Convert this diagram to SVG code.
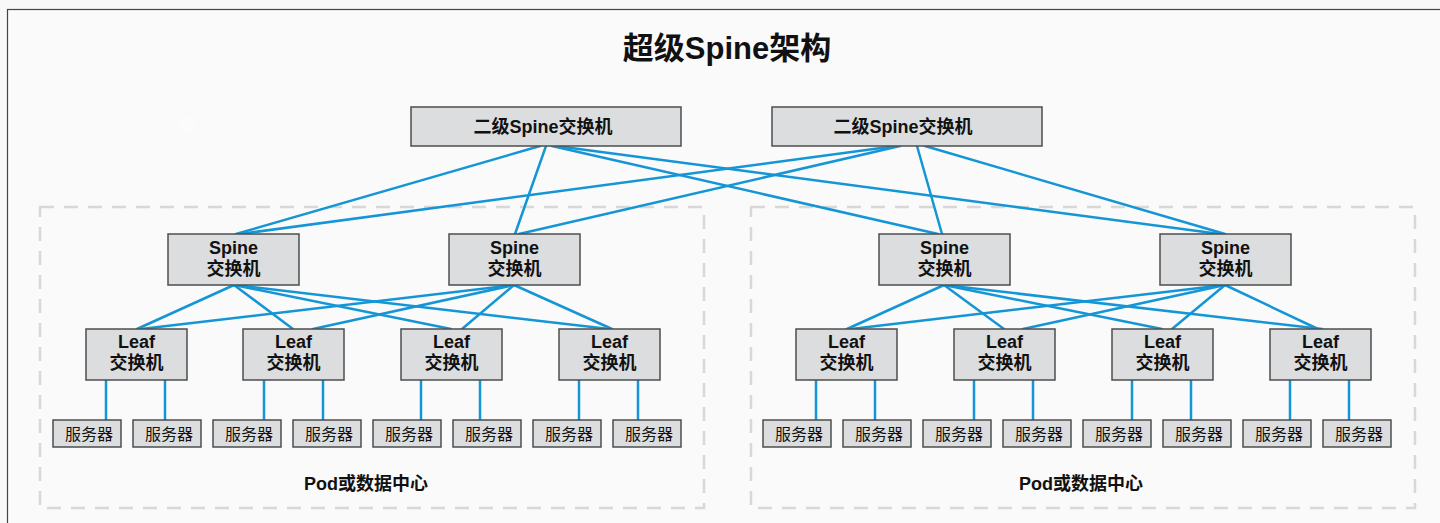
<svg xmlns="http://www.w3.org/2000/svg" width="1440" height="523" viewBox="0 0 1440 523">
  <style>
    .box { fill: #dcdddf; stroke: #4d4d4d; stroke-width: 1.5; }
    .t { font-family: "Liberation Sans", "Noto Sans CJK SC", sans-serif; fill: #111; text-anchor: middle; }
    .b { font-weight: bold; }
    .sw { font-size: 18px; font-weight: bold; }
    .srv { font-size: 16px; }
    .link { stroke: #1496d6; stroke-width: 2.5; fill: none; stroke-linecap: round; }
    .pod { fill: none; stroke: #d8d8d8; stroke-width: 2.5; stroke-dasharray: 14 10; }
  </style>

  <!-- page background and frame -->
  <rect x="0" y="0" width="1440" height="523" fill="#f8f8f8"/>
  <rect x="7.5" y="9.5" width="1450" height="530" fill="#fafafa" stroke="#444" stroke-width="1.2"/>
  <g opacity="0.35" stroke="#ffffff" stroke-width="3" fill="none">
    <line x1="188" y1="125" x2="240" y2="178"/>
    <circle cx="187" cy="125" r="7" fill="#ffffff"/>
  </g>

  <text class="t b" x="727" y="59" font-size="31">超级Spine架构</text>

  <!-- pod outlines -->
  <g id="pods">
    <rect class="pod" x="40" y="207" width="664" height="301"/>
    <rect class="pod" x="751" y="207" width="664" height="301"/>
    <text class="t b" x="366" y="490" font-size="18">Pod或数据中心</text>
    <text class="t b" x="1081" y="490" font-size="18">Pod或数据中心</text>
  </g>

  <!-- connectors -->
  <g id="connectors" class="link">
    <!-- super spine to spine -->
    <line x1="540" y1="146" x2="236" y2="234"/>
    <line x1="546" y1="146" x2="515" y2="234"/>
    <line x1="552" y1="146" x2="938" y2="234"/>
    <line x1="556" y1="146" x2="1220" y2="234"/>
    <line x1="896" y1="146" x2="240" y2="234"/>
    <line x1="900" y1="146" x2="519" y2="234"/>
    <line x1="917" y1="146" x2="942" y2="234"/>
    <line x1="925" y1="146" x2="1225" y2="234"/>
    <!-- left pod spine to leaf -->
    <line x1="234" y1="285" x2="137" y2="329"/>
    <line x1="234" y1="285" x2="293" y2="329"/>
    <line x1="234" y1="285" x2="451" y2="329"/>
    <line x1="234" y1="285" x2="609" y2="329"/>
    <line x1="514" y1="285" x2="141" y2="329"/>
    <line x1="514" y1="285" x2="313" y2="329"/>
    <line x1="514" y1="285" x2="462" y2="329"/>
    <line x1="514" y1="285" x2="612" y2="329"/>
    <!-- right pod spine to leaf -->
    <line x1="944" y1="285" x2="847" y2="329"/>
    <line x1="944" y1="285" x2="1004" y2="329"/>
    <line x1="944" y1="285" x2="1162" y2="329"/>
    <line x1="944" y1="285" x2="1322" y2="329"/>
    <line x1="1225" y1="285" x2="851" y2="329"/>
    <line x1="1225" y1="285" x2="1023" y2="329"/>
    <line x1="1225" y1="285" x2="1172" y2="329"/>
    <line x1="1225" y1="285" x2="1318" y2="329"/>
    <!-- leaf to server -->
    <line x1="106" y1="380" x2="106" y2="420"/><line x1="165" y1="380" x2="165" y2="420"/>
    <line x1="264" y1="380" x2="264" y2="420"/><line x1="323" y1="380" x2="323" y2="420"/>
    <line x1="421" y1="380" x2="421" y2="420"/><line x1="480" y1="380" x2="480" y2="420"/>
    <line x1="579" y1="380" x2="579" y2="420"/><line x1="638" y1="380" x2="638" y2="420"/>
    <line x1="816" y1="380" x2="816" y2="420"/><line x1="875" y1="380" x2="875" y2="420"/>
    <line x1="974" y1="380" x2="974" y2="420"/><line x1="1033" y1="380" x2="1033" y2="420"/>
    <line x1="1132" y1="380" x2="1132" y2="420"/><line x1="1191" y1="380" x2="1191" y2="420"/>
    <line x1="1290" y1="380" x2="1290" y2="420"/><line x1="1349" y1="380" x2="1349" y2="420"/>
  </g>

  <!-- super spine switches -->
  <g id="superspine-1"><rect class="box" x="411" y="107" width="270" height="39"/><text class="t sw" x="543" y="133">二级Spine交换机</text></g>
  <g id="superspine-2"><rect class="box" x="772" y="107" width="270" height="39"/><text class="t sw" x="903" y="133">二级Spine交换机</text></g>

  <!-- spine switches -->
  <g id="spine-1"><rect class="box" x="168" y="234" width="131" height="51"/><text class="t sw" x="233.5" y="254">Spine</text><text class="t sw" x="233.5" y="275">交换机</text></g>
  <g id="spine-2"><rect class="box" x="449" y="234" width="131" height="51"/><text class="t sw" x="514.5" y="254">Spine</text><text class="t sw" x="514.5" y="275">交换机</text></g>
  <g id="spine-3"><rect class="box" x="879" y="234" width="131" height="51"/><text class="t sw" x="944.5" y="254">Spine</text><text class="t sw" x="944.5" y="275">交换机</text></g>
  <g id="spine-4"><rect class="box" x="1160" y="234" width="131" height="51"/><text class="t sw" x="1225.5" y="254">Spine</text><text class="t sw" x="1225.5" y="275">交换机</text></g>

  <!-- leaf switches -->
  <g id="leaf-1"><rect class="box" x="86" y="329" width="101" height="51"/><text class="t sw" x="136.5" y="348">Leaf</text><text class="t sw" x="136.5" y="369">交换机</text></g>
  <g id="leaf-2"><rect class="box" x="243" y="329" width="101" height="51"/><text class="t sw" x="293.5" y="348">Leaf</text><text class="t sw" x="293.5" y="369">交换机</text></g>
  <g id="leaf-3"><rect class="box" x="401" y="329" width="101" height="51"/><text class="t sw" x="451.5" y="348">Leaf</text><text class="t sw" x="451.5" y="369">交换机</text></g>
  <g id="leaf-4"><rect class="box" x="559" y="329" width="101" height="51"/><text class="t sw" x="609.5" y="348">Leaf</text><text class="t sw" x="609.5" y="369">交换机</text></g>
  <g id="leaf-5"><rect class="box" x="796" y="329" width="101" height="51"/><text class="t sw" x="846.5" y="348">Leaf</text><text class="t sw" x="846.5" y="369">交换机</text></g>
  <g id="leaf-6"><rect class="box" x="954" y="329" width="101" height="51"/><text class="t sw" x="1004.5" y="348">Leaf</text><text class="t sw" x="1004.5" y="369">交换机</text></g>
  <g id="leaf-7"><rect class="box" x="1112" y="329" width="101" height="51"/><text class="t sw" x="1162.5" y="348">Leaf</text><text class="t sw" x="1162.5" y="369">交换机</text></g>
  <g id="leaf-8"><rect class="box" x="1270" y="329" width="101" height="51"/><text class="t sw" x="1320.5" y="348">Leaf</text><text class="t sw" x="1320.5" y="369">交换机</text></g>

  <!-- servers -->
  <g id="server-1"><rect class="box" x="53" y="420" width="68" height="27"/><text class="t srv" x="89" y="440">服务器</text></g>
  <g id="server-2"><rect class="box" x="133" y="420" width="68" height="27"/><text class="t srv" x="169" y="440">服务器</text></g>
  <g id="server-3"><rect class="box" x="213" y="420" width="68" height="27"/><text class="t srv" x="249" y="440">服务器</text></g>
  <g id="server-4"><rect class="box" x="293" y="420" width="68" height="27"/><text class="t srv" x="329" y="440">服务器</text></g>
  <g id="server-5"><rect class="box" x="373" y="420" width="68" height="27"/><text class="t srv" x="409" y="440">服务器</text></g>
  <g id="server-6"><rect class="box" x="453" y="420" width="68" height="27"/><text class="t srv" x="489" y="440">服务器</text></g>
  <g id="server-7"><rect class="box" x="533" y="420" width="68" height="27"/><text class="t srv" x="569" y="440">服务器</text></g>
  <g id="server-8"><rect class="box" x="613" y="420" width="68" height="27"/><text class="t srv" x="649" y="440">服务器</text></g>
  <g id="server-9"><rect class="box" x="763" y="420" width="68" height="27"/><text class="t srv" x="799" y="440">服务器</text></g>
  <g id="server-10"><rect class="box" x="843" y="420" width="68" height="27"/><text class="t srv" x="879" y="440">服务器</text></g>
  <g id="server-11"><rect class="box" x="923" y="420" width="68" height="27"/><text class="t srv" x="959" y="440">服务器</text></g>
  <g id="server-12"><rect class="box" x="1003" y="420" width="68" height="27"/><text class="t srv" x="1039" y="440">服务器</text></g>
  <g id="server-13"><rect class="box" x="1083" y="420" width="68" height="27"/><text class="t srv" x="1119" y="440">服务器</text></g>
  <g id="server-14"><rect class="box" x="1163" y="420" width="68" height="27"/><text class="t srv" x="1199" y="440">服务器</text></g>
  <g id="server-15"><rect class="box" x="1243" y="420" width="68" height="27"/><text class="t srv" x="1279" y="440">服务器</text></g>
  <g id="server-16"><rect class="box" x="1323" y="420" width="68" height="27"/><text class="t srv" x="1359" y="440">服务器</text></g>
</svg>
